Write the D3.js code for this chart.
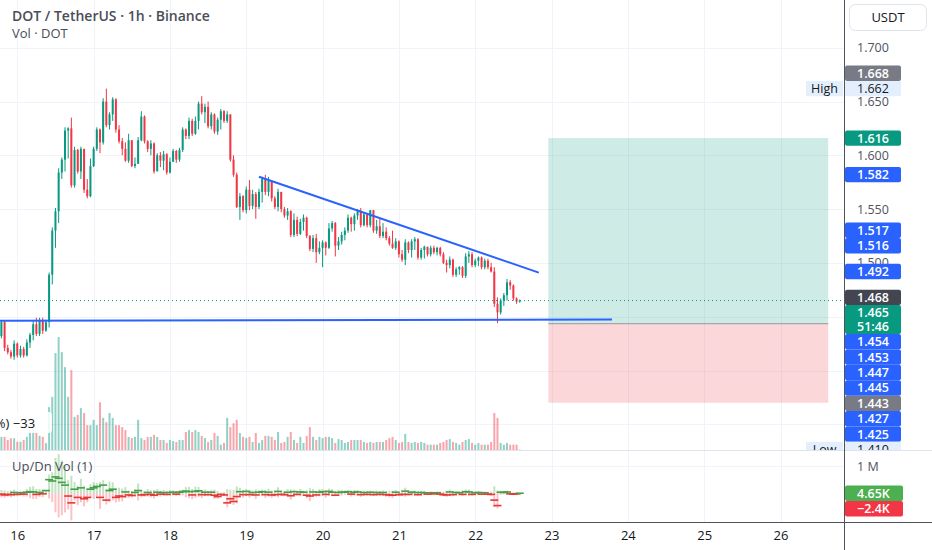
<!DOCTYPE html>
<html>
<head>
<meta charset="utf-8">
<script src="https://cdn.jsdelivr.net/npm/d3@7"></script>
<style>
  html, body { margin: 0; padding: 0; background: #fff; }
  svg { display: block; font-family: "Open Sans", sans-serif; }
</style>
</head>
<body>
<svg id="chart" width="932" height="550"></svg>
<script>
// hourly DOT/USDT bars, first bar 15th 19:00
const firstOpen = 1.432;
const closes = [
  1.445,1.421,1.417,1.413,1.425,1.414,1.420,1.414,1.426,1.433,1.443,1.434,1.446,1.437,1.445,1.489,
  1.530,1.548,1.584,1.596,1.623,1.625,1.572,1.605,1.585,1.606,1.568,1.562,1.590,1.606,1.624,1.612,
  1.650,1.628,1.638,1.652,1.624,1.613,1.606,1.595,1.614,1.590,1.592,1.614,1.636,1.613,1.606,1.611,
  1.585,1.600,1.595,1.601,1.584,1.594,1.604,1.596,1.605,1.624,1.618,1.632,1.620,1.632,1.648,1.640,
  1.645,1.627,1.638,1.622,1.633,1.641,1.632,1.638,1.596,1.582,1.552,1.562,1.549,1.568,1.553,1.564,
  1.552,1.566,1.578,1.566,1.576,1.560,1.552,1.566,1.550,1.544,1.548,1.526,1.540,1.527,1.538,1.542,
  1.525,1.513,1.523,1.510,1.514,1.519,1.514,1.532,1.537,1.516,1.520,1.526,1.530,1.542,1.536,1.544,
  1.548,1.535,1.545,1.535,1.549,1.530,1.534,1.525,1.529,1.523,1.518,1.514,1.520,1.508,1.503,1.519,
  1.512,1.520,1.522,1.505,1.512,1.515,1.508,1.514,1.510,1.514,1.508,1.500,1.498,1.503,1.489,1.494,
  1.496,1.488,1.506,1.508,1.498,1.502,1.505,1.496,1.502,1.496,1.492,1.462,1.454,1.465,1.470,1.482,
  1.479,1.467,1.464,1.465
];
const highs = [
  1.446,1.446,1.424,1.419,1.428,1.426,1.423,1.422,1.429,1.435,1.446,1.449,1.449,1.449,1.447,1.491,
  1.533,1.551,1.588,1.598,1.626,1.626,1.635,1.608,1.606,1.608,1.606,1.578,1.597,1.608,1.626,1.625,
  1.653,1.662,1.640,1.654,1.653,1.628,1.616,1.612,1.620,1.614,1.598,1.617,1.641,1.637,1.614,1.614,
  1.612,1.602,1.603,1.604,1.602,1.598,1.606,1.605,1.607,1.626,1.625,1.635,1.634,1.636,1.650,1.655,
  1.648,1.650,1.640,1.639,1.635,1.643,1.642,1.641,1.638,1.600,1.584,1.565,1.563,1.571,1.577,1.568,
  1.566,1.569,1.580,1.582,1.580,1.577,1.562,1.569,1.566,1.552,1.551,1.549,1.546,1.543,1.541,1.545,
  1.543,1.526,1.526,1.527,1.520,1.521,1.520,1.537,1.539,1.538,1.524,1.529,1.533,1.545,1.543,1.546,
  1.550,1.551,1.547,1.546,1.549,1.549,1.540,1.541,1.537,1.533,1.525,1.530,1.523,1.521,1.512,1.522,
  1.520,1.522,1.524,1.523,1.514,1.516,1.515,1.516,1.516,1.515,1.515,1.510,1.503,1.506,1.504,1.496,
  1.497,1.497,1.509,1.511,1.510,1.504,1.506,1.506,1.504,1.504,1.500,1.496,1.468,1.467,1.472,1.485,
  1.484,1.480,1.468,1.466
];
const lows = [
  1.430,1.418,1.415,1.411,1.410,1.412,1.412,1.412,1.413,1.421,1.428,1.432,1.432,1.434,1.436,1.440,
  1.480,1.514,1.537,1.578,1.585,1.597,1.570,1.570,1.583,1.578,1.565,1.560,1.561,1.589,1.604,1.602,
  1.610,1.626,1.624,1.632,1.621,1.611,1.600,1.594,1.593,1.589,1.588,1.593,1.613,1.611,1.603,1.600,
  1.583,1.586,1.589,1.586,1.582,1.583,1.594,1.593,1.594,1.603,1.615,1.615,1.618,1.619,1.624,1.638,
  1.630,1.625,1.624,1.620,1.619,1.624,1.630,1.630,1.594,1.580,1.551,1.540,1.547,1.546,1.549,1.550,
  1.541,1.550,1.556,1.563,1.562,1.557,1.550,1.548,1.547,1.542,1.540,1.524,1.524,1.525,1.526,1.530,
  1.523,1.511,1.510,1.500,1.508,1.496,1.507,1.513,1.529,1.506,1.512,1.517,1.521,1.528,1.529,1.530,
  1.540,1.533,1.534,1.533,1.533,1.528,1.527,1.523,1.523,1.521,1.516,1.513,1.512,1.505,1.501,1.498,
  1.509,1.505,1.512,1.503,1.503,1.504,1.506,1.506,1.508,1.507,1.506,1.499,1.491,1.495,1.487,1.487,
  1.489,1.486,1.486,1.500,1.496,1.496,1.497,1.494,1.494,1.494,1.491,1.459,1.444,1.452,1.460,1.465,
  1.475,1.465,1.462,1.463
];
// volume, thousand DOT
const volumes = [
  270,270,205,240,240,170,170,205,270,410,470,360,290,270,140,880,
  1090,1990,2320,2010,1700,1090,1640,680,720,860,760,510,510,620,510,980,
  660,570,760,660,510,510,470,410,270,245,270,620,245,205,270,270,
  310,270,205,205,145,205,185,165,205,205,370,410,370,410,370,290,
  245,165,205,350,290,110,145,660,470,550,620,350,270,245,270,165,
  350,145,205,290,290,270,205,370,145,165,270,370,205,145,270,145,
  290,470,270,205,270,245,270,270,245,145,225,205,145,165,205,205,
  205,205,165,145,165,145,165,165,165,205,245,270,205,145,165,330,
  165,145,165,145,165,145,110,110,110,110,145,165,205,225,165,145,
  110,165,205,225,145,110,145,110,110,110,165,760,660,145,110,145,
  110,110,110,7.05
];
// up minus down volume, thousand DOT
const volDelta = [
  -30,-60,-40,-50,30,-40,20,-30,40,60,50,-40,30,-20,100,500,
  450,600,550,400,300,-100,-350,150,-150,200,-200,-150,150,200,250,-150,
  300,-250,100,150,-150,-100,-120,50,-60,-80,30,100,-60,-50,30,-40,
  -70,40,-30,30,-40,30,40,-30,40,60,80,60,-60,70,90,-50,
  40,-50,40,-70,-120,-40,-60,-350,-200,-300,-120,60,-50,70,-50,30,
  -60,40,60,-50,40,-60,-50,70,-40,-50,40,-90,60,-40,50,40,
  -70,-100,50,-60,40,60,-40,70,40,-70,30,40,40,60,-30,40,
  50,-50,30,-40,40,-50,30,-40,30,-50,-60,-70,40,-50,-40,80,
  -40,40,30,-50,30,20,-30,20,-20,20,-30,-50,-60,50,-50,30,
  20,-40,60,50,-40,20,30,-30,20,-30,-40,-250,-450,40,30,50,
  -20,-30,-20,2.25
];
const dayTicks = [16, 17, 18, 19, 20, 21, 22, 23, 24, 25, 26];
const priceTicks = [1.35, 1.40, 1.45, 1.50, 1.55, 1.60, 1.65, 1.70];
// drawings (bar-hour, price)
const trendHours = [81, 169];
const trendPrices = [1.580, 1.491];
const levelHours = [-12, 192];
const levelPrices = [1.4462, 1.4473];
const positionHours = [172, 260];
const positionEntry = 1.4435, positionTarget = 1.616, positionStop = 1.370;
// price-scale markers
const markValues = [1.668, 1.516, 1.616, 1.582, 1.517, 1.492, 1.468, 1.454, 1.453, 1.447, 1.445, 1.443, 1.427, 1.425];
const markKinds  = ['gray','blue','green','blue','blue','blue','dark','blue','blue','blue','blue','gray','blue','blue'];
const countdown = '51:46';

const W = 932, H = 550, axisX = 844, paneBottom = 450, pane2Bottom = 522;
const svg = d3.select('#chart');
const HOUR = 3600e3;
const t0 = Date.UTC(2023, 0, 15, 19);
const dayDate = d => new Date(Date.UTC(2023, 0, d));
const barTimes = closes.map((c, i) => new Date(t0 + i * HOUR));
const opens = [firstOpen].concat(closes.slice(0, -1));

const x = d3.scaleUtc().domain([dayDate(16), dayDate(26)]).range([17.3, 780.5]);
const tx = h => x(new Date(t0 + h * HOUR));
const y = d3.scaleLinear().domain([1.35, 1.70]).range([424.3, 47.7]);
const vy = d3.scaleLinear().domain([0, d3.max(volumes)]).range([paneBottom, 337]);
const uy = d3.scaleLinear().domain([-1000, 1000]).range([520.6, 466]);

const UP = '#089981', DN = '#f23645';
const defs = svg.append('defs');
defs.append('clipPath').attr('id', 'c1').append('rect').attr('width', axisX).attr('height', paneBottom);
defs.append('clipPath').attr('id', 'c2').append('rect').attr('y', paneBottom + 1).attr('width', axisX).attr('height', pane2Bottom - paneBottom - 1);
defs.append('clipPath').attr('id', 'c3').append('rect').attr('width', W).attr('height', paneBottom);

// grid
const grid = svg.append('g').attr('stroke', '#f0f3fa').attr('stroke-width', 1);
grid.selectAll('.v').data(dayTicks).join('line')
  .attr('x1', d => Math.round(x(dayDate(d))) + 0.5).attr('x2', d => Math.round(x(dayDate(d))) + 0.5)
  .attr('y1', 0).attr('y2', pane2Bottom);
grid.selectAll('.h').data(priceTicks).join('line')
  .attr('x1', 0).attr('x2', axisX).attr('y1', d => Math.round(y(d)) + 0.5).attr('y2', d => Math.round(y(d)) + 0.5);
grid.append('line').attr('x1', 0).attr('x2', axisX).attr('y1', Math.round(uy(1000)) + 0.5).attr('y2', Math.round(uy(1000)) + 0.5);

// main pane
const main = svg.append('g').attr('clip-path', 'url(#c1)');
main.selectAll('.vol').data(volumes).join('rect')
  .attr('x', (v, i) => x(barTimes[i]) - 1).attr('width', 2)
  .attr('y', v => vy(v)).attr('height', v => paneBottom - vy(v))
  .attr('fill', (v, i) => closes[i] >= opens[i] ? 'rgba(8,153,129,0.45)' : 'rgba(242,54,69,0.45)');

const candles = main.append('g');
closes.forEach((c, i) => {
  const xb = x(barTimes[i]);
  const col = c >= opens[i] ? UP : DN;
  candles.append('rect').attr('x', xb - 0.5).attr('width', 1)
    .attr('y', y(highs[i])).attr('height', y(lows[i]) - y(highs[i])).attr('fill', col);
  const top = y(Math.max(c, opens[i])), bot = y(Math.min(c, opens[i]));
  candles.append('rect').attr('x', xb - 1).attr('width', 2)
    .attr('y', top).attr('height', Math.max(1, bot - top)).attr('fill', col);
});

// position tool
main.append('rect').attr('x', tx(positionHours[0])).attr('width', tx(positionHours[1]) - tx(positionHours[0]))
  .attr('y', y(positionTarget)).attr('height', y(positionEntry) - y(positionTarget)).attr('fill', 'rgba(8,153,129,0.2)');
main.append('rect').attr('x', tx(positionHours[0])).attr('width', tx(positionHours[1]) - tx(positionHours[0]))
  .attr('y', y(positionEntry)).attr('height', y(positionStop) - y(positionEntry)).attr('fill', 'rgba(242,54,69,0.2)');
main.append('line').attr('x1', tx(positionHours[0])).attr('x2', tx(positionHours[1]))
  .attr('y1', y(positionEntry)).attr('y2', y(positionEntry)).attr('stroke', '#9598a1').attr('stroke-width', 1);

// last price line
const last = closes[closes.length - 1];
main.append('line').attr('x1', 0).attr('x2', axisX).attr('y1', y(last)).attr('y2', y(last))
  .attr('stroke', UP).attr('stroke-width', 1).attr('stroke-dasharray', '1 3');

// drawings
main.append('line').attr('x1', tx(trendHours[0])).attr('y1', y(trendPrices[0]))
  .attr('x2', tx(trendHours[1])).attr('y2', y(trendPrices[1])).attr('stroke', '#2962ff').attr('stroke-width', 2);
main.append('line').attr('x1', tx(levelHours[0])).attr('y1', y(levelPrices[0]))
  .attr('x2', tx(levelHours[1])).attr('y2', y(levelPrices[1])).attr('stroke', '#2962ff').attr('stroke-width', 2);

// cut-off legend value over the volume
main.append('rect').attr('x', -6).attr('y', 412).attr('width', 58).attr('height', 21).attr('rx', 3)
  .attr('fill', 'rgba(255,255,255,0.85)');
main.append('text').attr('x', -9).attr('y', 427.5).attr('font-size', 13).attr('fill', '#131722').text('(%) \u221233');

// up/dn volume pane
const p2 = svg.append('g').attr('clip-path', 'url(#c2)');
volumes.forEach((v, i) => {
  const xb = x(barTimes[i]);
  const up = (v + volDelta[i]) / 2, dn = (v - volDelta[i]) / 2;
  p2.append('rect').attr('x', xb - 1).attr('width', 2).attr('y', uy(up)).attr('height', uy(0) - uy(up))
    .attr('fill', 'rgba(76,175,80,0.35)');
  p2.append('rect').attr('x', xb - 1).attr('width', 2).attr('y', uy(0)).attr('height', uy(-dn) - uy(0))
    .attr('fill', 'rgba(242,54,69,0.3)');
});
volDelta.forEach((d, i) => {
  const xb = x(barTimes[i]);
  p2.append('line').attr('x1', xb - 4).attr('x2', xb + 4).attr('y1', uy(d)).attr('y2', uy(d))
    .attr('stroke', d >= 0 ? '#43a047' : '#e53935').attr('stroke-width', 1.6);
});

// separators and axis lines
svg.append('line').attr('x1', 0).attr('x2', W).attr('y1', paneBottom + 0.5).attr('y2', paneBottom + 0.5).attr('stroke', '#e0e3eb');
svg.append('line').attr('x1', 0).attr('x2', W).attr('y1', pane2Bottom + 0.5).attr('y2', pane2Bottom + 0.5).attr('stroke', '#50535e');
svg.append('line').attr('x1', axisX + 0.5).attr('x2', axisX + 0.5).attr('y1', 0).attr('y2', H).attr('stroke', '#50535e');

// time axis
const xAxis = d3.axisBottom(x).tickValues(dayTicks.map(dayDate)).tickFormat(d3.utcFormat('%-d')).tickSize(0).tickPadding(8);
svg.append('g').attr('transform', `translate(0,${pane2Bottom + 1})`).call(xAxis)
  .call(g => g.select('.domain').remove())
  .call(g => g.selectAll('text').attr('font-size', 13).attr('fill', '#131722').attr('font-family', '"Open Sans", sans-serif'));

// price markers with overlap resolution
const hi = d3.max(highs), lo = d3.min(lows);
const marks = markValues.map((v, i) => ({ v, kind: markKinds[i], h: 15.4 }));
marks.push({ v: hi, kind: 'high', h: 15.4 });
marks.push({ v: lo, kind: 'low', h: 15.4 });
marks.push({ v: last, kind: 'last', h: 29 });
const pinned = new Set(['high', 'dark']);
marks.forEach(m => { m.y = y(m.v); m.pin = pinned.has(m.kind) || m.v === 1.516; });
marks.sort((a, b) => b.v - a.v);
for (let i = 1; i < marks.length; i++) {
  const p = marks[i - 1], m = marks[i];
  if (!m.pin) m.y = Math.max(m.y, p.y + p.h / 2 + m.h / 2);
}
for (let i = marks.length - 2; i >= 0; i--) {
  const n = marks[i + 1], m = marks[i];
  if (!m.pin && m.y + m.h / 2 > n.y - n.h / 2) m.y = n.y - n.h / 2 - m.h / 2;
}

// price axis: tick labels hidden behind the marker stack are not drawn
const inBox = yy => marks.some(m => yy >= m.y - m.h / 2 - 1 && yy <= m.y + m.h / 2 + 1);
const covered = v => inBox(y(v) - 5) && inBox(y(v) + 5);
const yAxis = d3.axisRight(y).tickValues(priceTicks.filter(v => !covered(v)))
  .tickFormat(d3.format('.3f')).tickSize(0).tickPadding(13);
svg.append('g').attr('transform', `translate(${axisX},0)`).call(yAxis)
  .call(g => g.select('.domain').remove())
  .call(g => g.selectAll('text').attr('font-size', 12.5).attr('fill', '#50535e').attr('font-family', '"Open Sans", sans-serif'));

const fills = { gray: '#787b86', blue: '#2962ff', green: UP, dark: '#434651', last: UP, high: '#e3effd', low: '#e3effd' };
const lab = svg.append('g').attr('clip-path', 'url(#c3)').attr('font-size', 12.5);
marks.forEach(m => {
  const light = m.kind === 'high' || m.kind === 'low';
  lab.append('rect').attr('x', axisX + 1).attr('y', m.y - m.h / 2).attr('width', 56).attr('height', m.h)
    .attr('rx', 2).attr('fill', fills[m.kind]);
  const tcol = light ? '#131722' : '#fff';
  const fw = light ? 400 : 600;
  if (m.kind === 'last') {
    lab.append('text').attr('x', 857).attr('y', m.y - 3).attr('fill', tcol).attr('font-weight', fw).text(d3.format('.3f')(m.v));
    lab.append('text').attr('x', 857).attr('y', m.y + 11).attr('fill', tcol).attr('font-weight', fw).text(countdown);
  } else {
    lab.append('text').attr('x', 857).attr('y', m.y + 4.5).attr('fill', tcol).attr('font-weight', fw).text(d3.format('.3f')(m.v));
  }
  if (light) {
    lab.append('rect').attr('x', 806).attr('y', m.y - m.h / 2).attr('width', 37).attr('height', m.h).attr('fill', '#e3effd');
    lab.append('text').attr('x', 824.5).attr('y', m.y + 4.5).attr('text-anchor', 'middle').attr('fill', '#131722')
      .text(m.kind === 'high' ? 'High' : 'Low');
  }
});

// up/dn pane scale
svg.append('text').attr('x', 857).attr('y', uy(1000) + 4.5).attr('font-size', 12.5).attr('fill', '#50535e').text('1 M');
const lastVol = volumes[volumes.length - 1], lastDelta = volDelta[volDelta.length - 1];
const upNow = (lastVol + lastDelta) / 2 * 1000, dnNow = -(lastVol - lastDelta) / 2 * 1000;
const fmtK = v => d3.format('.3~s')(v).replace('k', 'K').replace('-', '\u2212');
[[upNow, '#4caf50', uy(0)], [dnNow, '#f23645', uy(0) + 15.4]].forEach(([v, c, yy]) => {
  svg.append('rect').attr('x', axisX + 1).attr('y', yy - 7.7).attr('width', 58).attr('height', 15.4).attr('rx', 2).attr('fill', c);
  svg.append('text').attr('x', 857).attr('y', yy + 4.5).attr('font-size', 12.5).attr('font-weight', 600).attr('fill', '#fff').text(fmtK(v));
});

// currency button
svg.append('rect').attr('x', 849.5).attr('y', 4.5).attr('width', 77).attr('height', 26).attr('rx', 6)
  .attr('fill', '#fff').attr('stroke', '#e0e3eb');
svg.append('text').attr('x', 888).attr('y', 22).attr('text-anchor', 'middle').attr('font-size', 13).attr('fill', '#131722').text('USDT');

// legends
svg.append('text').attr('x', 12).attr('y', 21).attr('font-size', 14).attr('font-weight', 600).attr('fill', '#4a4d57').text('DOT / TetherUS \u00b7 1h \u00b7 Binance');
svg.append('text').attr('x', 12).attr('y', 38).attr('font-size', 13).attr('fill', '#4a4d57').text('Vol \u00b7 DOT');
svg.append('text').attr('x', 12).attr('y', 471).attr('font-size', 13).attr('fill', '#4a4d57').text('Up/Dn Vol (1)');
</script>
</body>
</html>
